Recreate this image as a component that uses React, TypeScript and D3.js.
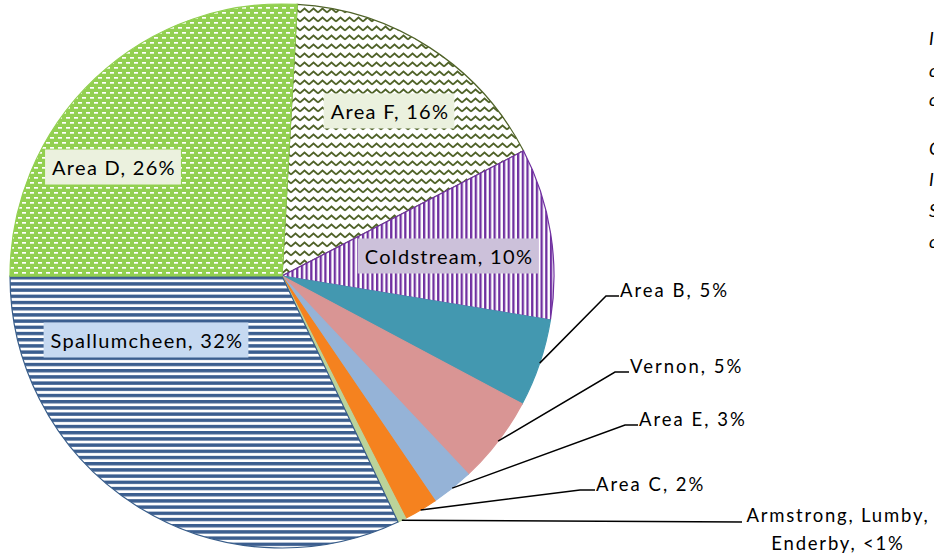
import React, { useEffect, useRef } from 'react';
import * as d3 from 'd3';

// share of total, clockwise from just right of 12 o'clock
const categories = ['Area F', 'Coldstream', 'Area B', 'Vernon', 'Area E', 'Area C', 'Armstrong, Lumby, Enderby', 'Spallumcheen', 'Area D'];
const shares = [16.5, 10.2, 5.2, 5.2, 2.5, 2.0, 0.5, 32.0, 25.9];
const shareLabels = ['16%', '10%', '5%', '5%', '3%', '2%', '<1%', '32%', '26%'];
const startDeg = 3.2;

// partly visible text cut off at the right edge
const edgeGlyphs = ['I', 'c', 'c', 'C', 'I', 'S', 'c'];
const edgeBaselines = [45, 77, 106, 155, 186, 217, 248];

const W = 934;
const H = 559;
const cx = 282;
const cy = 276;
const R = 272;

const fills = ['url(#zigzag)', 'url(#vstripe)', '#4398b0', '#d99594', '#95b3d7', '#f5821f', '#bbd39a', 'url(#hstripe)', 'url(#dash)'];
const strokes = ['#4f6228', '#7030a0', '#4398b0', '#d99594', '#95b3d7', '#f5821f', '#bbd39a', '#385d8a', '#92d050'];

// inside labels: box centre and colour
const inside: Record<string, { x: number; y: number; bg: string }> = {
  'Area F': { x: 390, y: 111, bg: '#ebf1de' },
  Coldstream: { x: 449, y: 256, bg: '#ccc1da' },
  Spallumcheen: { x: 147, y: 340, bg: '#c6d9f1' },
  'Area D': { x: 114, y: 167, bg: '#ebf1de' },
};
// outside labels: elbow of leader line and text start
const outside: Record<string, { ex: number; ey: number; tx: number }> = {
  'Area B': { ex: 606, ey: 296, tx: 620 },
  Vernon: { ex: 615, ey: 372, tx: 630 },
  'Area E': { ex: 625, ey: 425, tx: 639 },
  'Area C': { ex: 580, ey: 490, tx: 596 },
  'Armstrong, Lumby, Enderby': { ex: 742, ey: 522, tx: 742 },
};

const FONT = 'Lato, Carlito, Calibri, sans-serif';

export default function App() {
  const ref = useRef<SVGSVGElement>(null);

  useEffect(() => {
    const svg = d3.select(ref.current);
    svg.selectAll('*').remove();
    const defs = svg.append('defs');

    const zz = defs.append('pattern').attr('id', 'zigzag').attr('patternUnits', 'userSpaceOnUse').attr('width', 9).attr('height', 9);
    zz.append('rect').attr('width', 9).attr('height', 9).attr('fill', '#fff');
    zz.append('path').attr('d', 'M-0.1,6.5 L4.5,2.5 L9.1,6.5').attr('fill', 'none').attr('stroke', '#4f6228').attr('stroke-width', 1.7);

    const vs = defs.append('pattern').attr('id', 'vstripe').attr('patternUnits', 'userSpaceOnUse').attr('width', 4.7).attr('height', 10);
    vs.append('rect').attr('width', 4.7).attr('height', 10).attr('fill', '#fff');
    vs.append('rect').attr('width', 2.3).attr('height', 10).attr('fill', '#7030a0');

    const hs = defs.append('pattern').attr('id', 'hstripe').attr('patternUnits', 'userSpaceOnUse').attr('width', 10).attr('height', 6.2);
    hs.append('rect').attr('width', 10).attr('height', 6.2).attr('fill', '#fff');
    hs.append('rect').attr('width', 10).attr('height', 3.4).attr('fill', '#3b5e8f');

    const ds = defs.append('pattern').attr('id', 'dash').attr('patternUnits', 'userSpaceOnUse').attr('width', 8).attr('height', 10);
    ds.append('rect').attr('width', 8).attr('height', 10).attr('fill', '#92d050');
    ds.append('rect').attr('x', 0).attr('y', 1).attr('width', 4).attr('height', 1.7).attr('fill', '#fff');
    ds.append('rect').attr('x', 4).attr('y', 6).attr('width', 4).attr('height', 1.7).attr('fill', '#fff');

    const a0 = (startDeg * Math.PI) / 180;
    const pie = d3.pie<number>().sort(null).value(d => d).startAngle(a0).endAngle(a0 + 2 * Math.PI);
    const arcs = pie(shares);
    const arc = d3.arc<d3.PieArcDatum<number>>().innerRadius(0).outerRadius(R);
    const rim = d3.arc<d3.PieArcDatum<number>>().innerRadius(R).outerRadius(R);

    const g = svg.append('g').attr('transform', `translate(${cx},${cy})`);
    g.selectAll('path')
      .data(arcs)
      .join('path')
      .attr('d', arc)
      .attr('fill', (_, i) => fills[i])
      .attr('stroke', (_, i) => strokes[i])
      .attr('stroke-width', 1.2);

    // inside labels with boxes
    arcs.forEach((d, i) => {
      const name = categories[i];
      const lab = inside[name];
      if (!lab) return;
      const t = svg.append('text')
        .attr('x', lab.x)
        .attr('y', lab.y)
        .attr('text-anchor', 'middle')
        .attr('dominant-baseline', 'central')
        .attr('font-family', FONT)
        .attr('font-size', 20)
        .attr('letter-spacing', 1.3)
        .attr('fill', '#000')
        .text(`${name}, ${shareLabels[i]}`);
      const bb = (t.node() as SVGTextElement).getBBox();
      svg.insert('rect', () => t.node())
        .attr('x', bb.x - 7)
        .attr('y', lab.y - 17.5)
        .attr('width', bb.width + 12)
        .attr('height', 35)
        .attr('fill', lab.bg);
    });

    // outside labels with leader lines
    arcs.forEach((d, i) => {
      const name = categories[i];
      const lab = outside[name];
      if (!lab) return;
      const [px, py] = rim.centroid(d);
      svg.append('polyline')
        .attr('points', `${cx + px},${cy + py} ${lab.ex},${lab.ey} ${lab.tx - 1},${lab.ey}`)
        .attr('fill', 'none')
        .attr('stroke', '#000')
        .attr('stroke-width', 1.5);
      const text = `${name}, ${shareLabels[i]}`;
      if (name.startsWith('Armstrong')) {
        const lines = ['Armstrong, Lumby,', `Enderby, ${shareLabels[i]}`];
        lines.forEach((ln, k) => {
          svg.append('text')
            .attr('x', 838)
            .attr('y', 522 + k * 28)
            .attr('text-anchor', 'middle')
            .attr('font-family', FONT)
            .attr('font-size', 18.5)
            .attr('letter-spacing', 1.8)
            .attr('fill', '#000')
            .text(ln);
        });
      } else {
        svg.append('text')
          .attr('x', lab.tx)
          .attr('y', lab.ey + 1)
          .attr('font-family', FONT)
          .attr('font-size', 18.5)
          .attr('letter-spacing', 2)
          .attr('fill', '#000')
          .text(text);
      }
    });

    edgeGlyphs.forEach((c, k) => {
      svg.append('text')
        .attr('x', 929)
        .attr('y', edgeBaselines[k])
        .attr('font-family', FONT)
        .attr('font-size', 18)
        .attr('font-style', 'italic')
        .attr('fill', '#000')
        .text(c);
    });
  }, []);

  return (
    <svg
      ref={ref}
      width={W}
      height={H}
      style={{ position: 'absolute', left: 0, top: 0, background: '#fff' }}
    />
  );
}
